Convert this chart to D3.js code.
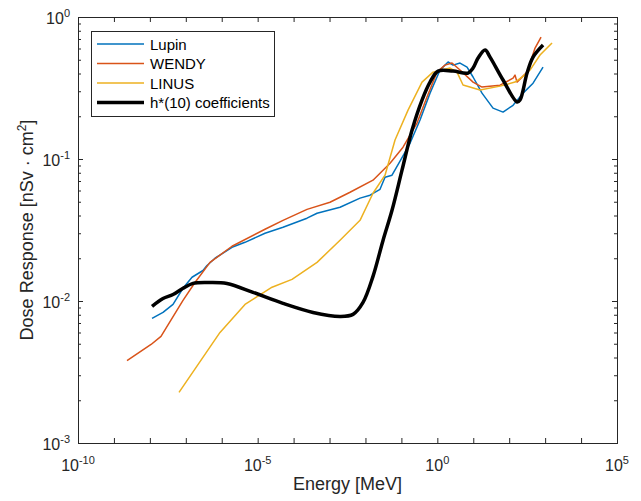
<!DOCTYPE html>
<html>
<head>
<meta charset="utf-8">
<script src="https://cdn.jsdelivr.net/npm/d3@7"></script>
<style>
  body { margin: 0; background: #fff; }
  text { font-family: "Liberation Sans", Arial, sans-serif; fill: #262626; }
</style>
</head>
<body>
<div id="container"></div>
<script>
const width = 641;
const height = 501;
const margin = { top: 17, right: 24, bottom: 58, left: 78 };

// series: [energy MeV, dose response nSv cm^2]
const lupin = [
  [1.15e-8, 0.00754], [2.32e-8, 0.00831], [4.41e-8, 0.00947], [8.36e-8, 0.0123],
  [1.49e-7, 0.0147], [3.01e-7, 0.0164], [3.89e-7, 0.0178], [6.50e-7, 0.0200],
  [1.93e-6, 0.0239], [4.44e-6, 0.0259], [1.60e-5, 0.0300], [5.07e-5, 0.0331],
  [2.36e-4, 0.0383], [4.49e-4, 0.0415], [1.96e-3, 0.0457], [7.06e-3, 0.0530],
  [0.0134, 0.0556], [0.0254, 0.0612], [0.035, 0.0744], [0.0548, 0.0769],
  [0.0916, 0.0965], [0.174, 0.129], [0.330, 0.188], [0.626, 0.291],
  [1.19, 0.423], [1.99, 0.482], [2.74, 0.458], [4.28, 0.474], [6.71, 0.444],
  [9.86, 0.378], [17.5, 0.291], [35.5, 0.228], [67.4, 0.214], [128, 0.239],
  [243, 0.291], [461, 0.342], [875, 0.444]
];

const wendy = [
  [2.31e-9, 0.00381], [1.08e-8, 0.00494], [2.04e-8, 0.00563], [8.36e-8, 0.0101],
  [1.80e-7, 0.0135], [4.72e-7, 0.0187], [1.93e-6, 0.0243], [1.60e-5, 0.0320],
  [5.07e-5, 0.0370], [2.36e-4, 0.0442], [1.03e-3, 0.0496], [3.72e-3, 0.0583],
  [0.0162, 0.0709], [0.0483, 0.0934], [0.111, 0.121], [0.272, 0.179],
  [0.516, 0.273], [0.98, 0.409], [1.64, 0.458], [2.56, 0.474], [4.28, 0.423],
  [9.86, 0.348], [17.5, 0.321], [55.6, 0.331], [128, 0.371], [145, 0.390],
  [165, 0.348], [314, 0.409], [524, 0.604], [770, 0.722]
];

const linus = [
  [6.47e-8, 0.00227], [8.95e-7, 0.00601], [4.44e-6, 0.00946], [2.51e-5, 0.0125],
  [9.03e-5, 0.0142], [4.49e-4, 0.0187], [1.96e-3, 0.0268], [7.06e-3, 0.0370],
  [0.0162, 0.0574], [0.035, 0.0769], [0.0665, 0.136], [0.153, 0.221],
  [0.375, 0.348], [0.759, 0.409], [2.26, 0.437], [3.53, 0.409], [5.19, 0.332],
  [15.4, 0.306], [55.6, 0.326], [145, 0.348], [227, 0.377], [380, 0.423],
  [721, 0.540], [1556, 0.656]
];

const hstar = [
  [1.15e-8, 0.00916], [2.32e-8, 0.0104], [4.41e-8, 0.0111], [8.36e-8, 0.0123],
  [1.59e-7, 0.0133], [3.89e-7, 0.0135], [1.40e-6, 0.0133], [7.43e-6, 0.0115],
  [5.07e-5, 0.00962], [3.47e-4, 0.00831], [1.96e-3, 0.00779], [4.51e-3, 0.00805],
  [8.55e-3, 0.00977], [0.0162, 0.0149], [0.0308, 0.0267], [0.0548, 0.0435],
  [0.104, 0.0834], [0.198, 0.160], [0.375, 0.260], [0.626, 0.348], [1.05, 0.416],
  [2.74, 0.416], [7.16, 0.403], [9.86, 0.437], [13.6, 0.514], [21.3, 0.585],
  [29.3, 0.522], [67.4, 0.360], [165, 0.252], [200, 0.260], [314, 0.403],
  [461, 0.522], [875, 0.635]
];

const seriesNames = ["Lupin", "WENDY", "LINUS", "h*(10) coefficients"];
const seriesColors = ["#0072BD", "#D95319", "#EDB120", "#000000"];
const seriesWidths = [1.5, 1.5, 1.5, 3.5];
const allSeries = [lupin, wendy, linus, hstar];

const xTickExp = [-10, -5, 0, 5];
const yTickExp = [-3, -2, -1, 0];

const svg = d3.select("#container")
    .append("svg")
    .attr("width", width)
    .attr("height", height);

const x = d3.scaleLog()
    .domain([1e-10, 1e5])
    .range([margin.left, width - margin.right]);

const y = d3.scaleLog()
    .domain([1e-3, 1])
    .range([height - margin.bottom, margin.top]);

const axisColor = "#262626";

// x ticks at every decade, bottom and top
const xDecades = d3.range(-10, 6).map(e => Math.pow(10, e));
svg.append("g")
    .attr("transform", `translate(0,${y(1e-3)})`)
    .call(d3.axisBottom(x).tickValues(xDecades).tickSize(-5).tickFormat(""));
svg.append("g")
    .attr("transform", `translate(0,${y(1)})`)
    .call(d3.axisTop(x).tickValues(xDecades).tickSize(-5).tickFormat(""));

// y ticks, major + minor, left and right
const yMajor = yTickExp.map(e => Math.pow(10, e));
const yMinor = [];
for (let e = -3; e < 0; e++) {
    for (let m = 2; m <= 9; m++) yMinor.push(m * Math.pow(10, e));
}
svg.append("g")
    .attr("transform", `translate(${x(1e-10)},0)`)
    .call(d3.axisLeft(y).tickValues(yMajor).tickSize(-5).tickFormat(""));
svg.append("g")
    .attr("transform", `translate(${x(1e-10)},0)`)
    .call(d3.axisLeft(y).tickValues(yMinor).tickSize(-3).tickFormat(""));
svg.append("g")
    .attr("transform", `translate(${x(1e5)},0)`)
    .call(d3.axisRight(y).tickValues(yMajor).tickSize(-5).tickFormat(""));
svg.append("g")
    .attr("transform", `translate(${x(1e5)},0)`)
    .call(d3.axisRight(y).tickValues(yMinor).tickSize(-3).tickFormat(""));

svg.selectAll(".domain, .tick line")
    .attr("stroke", axisColor)
    .attr("stroke-width", 1);

// tick labels with superscripts
const xLabels = svg.append("g").selectAll("text")
    .data(xTickExp)
    .join("text")
    .attr("x", d => x(Math.pow(10, d)))
    .attr("y", y(1e-3) + 28)
    .attr("text-anchor", "middle")
    .attr("font-size", 16);
xLabels.append("tspan").text("10");
xLabels.append("tspan").attr("dy", -7).attr("font-size", 11).text(d => d);

const yLabels = svg.append("g").selectAll("text")
    .data(yTickExp)
    .join("text")
    .attr("x", x(1e-10) - 8)
    .attr("y", d => y(Math.pow(10, d)) + 7)
    .attr("text-anchor", "end")
    .attr("font-size", 16);
yLabels.append("tspan").text("10");
yLabels.append("tspan").attr("dy", -7).attr("font-size", 11).text(d => d);

// axis titles
svg.append("text")
    .attr("x", (x(1e-10) + x(1e5)) / 2)
    .attr("y", 490)
    .attr("text-anchor", "middle")
    .attr("font-size", 18)
    .text("Energy [MeV]");

const yTitle = svg.append("text")
    .attr("transform", `translate(33,${(y(1) + y(1e-3)) / 2}) rotate(-90)`)
    .attr("text-anchor", "middle")
    .attr("font-size", 18);
yTitle.append("tspan").text("Dose Response [nSv \u00b7 cm");
yTitle.append("tspan").attr("dy", -7).attr("font-size", 12).text("2");
yTitle.append("tspan").attr("dy", 7).text("]");

// lines
svg.append("clipPath").attr("id", "plot-clip")
    .append("rect")
    .attr("x", x(1e-10)).attr("y", y(1))
    .attr("width", x(1e5) - x(1e-10))
    .attr("height", y(1e-3) - y(1));

const line = d3.line().x(d => x(d[0])).y(d => y(d[1]));
const smoothLine = d3.line().x(d => x(d[0])).y(d => y(d[1])).curve(d3.curveCatmullRom.alpha(0.5));

allSeries.forEach((data, i) => {
    svg.append("path")
        .datum(data)
        .attr("clip-path", "url(#plot-clip)")
        .attr("fill", "none")
        .attr("stroke", seriesColors[i])
        .attr("stroke-width", seriesWidths[i])
        .attr("stroke-linejoin", "round")
        .attr("d", i === 3 ? smoothLine : line);
});

// legend
const legend = svg.append("g");
legend.append("rect")
    .attr("x", 91.5).attr("y", 31.5)
    .attr("width", 183).attr("height", 85)
    .attr("fill", "#fff")
    .attr("stroke", axisColor)
    .attr("stroke-width", 1);

seriesNames.forEach((name, i) => {
    const ly = 44 + i * 19.5;
    legend.append("line")
        .attr("x1", 97).attr("x2", 144)
        .attr("y1", ly).attr("y2", ly)
        .attr("stroke", seriesColors[i])
        .attr("stroke-width", seriesWidths[i]);
    legend.append("text")
        .attr("x", 150).attr("y", ly + 5.5)
        .attr("font-size", 15)
        .style("fill", "#000")
        .text(name);
});
</script>
</body>
</html>
